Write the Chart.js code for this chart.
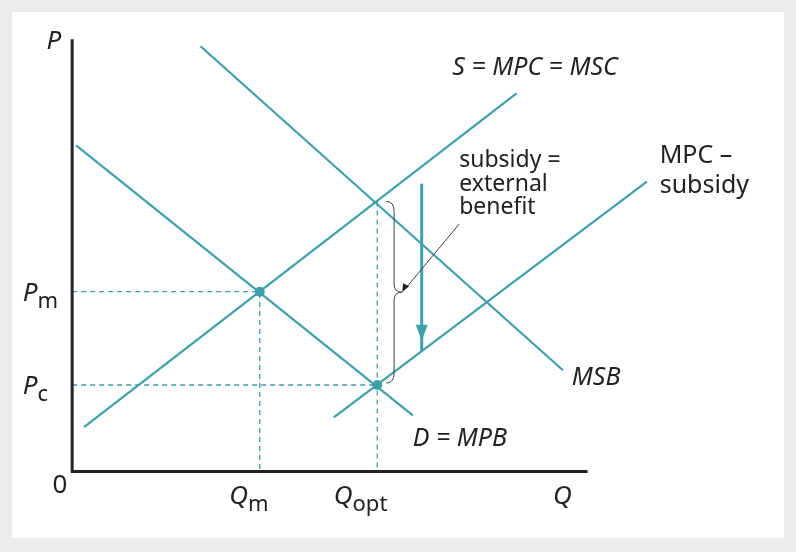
<!DOCTYPE html>
<html><head><meta charset="utf-8">
<script src="https://cdn.jsdelivr.net/npm/chart.js@4"></script>
<style>body{margin:0;background:#fff}canvas{display:block}</style>
</head><body>
<canvas id="c" width="796" height="552"></canvas>
<script>
// data in diagram units, origin at (0,0)
const supplyLine = [{x:12,y:45},{x:450,y:385}];        // S = MPC = MSC
const msbLine = [{x:130,y:433},{x:497,y:103}];         // MSB
const demandLine = [{x:4,y:332},{x:345,y:57}];         // D = MPB
const subsidyLine = [{x:265,y:55},{x:582,y:295}];      // MPC - subsidy
const equilibria = [{x:190,y:183},{x:309,y:88}];
const pmGuide = [{x:0,y:183},{x:190,y:183},{x:190,y:0}];
const pcGuide = [{x:0,y:88},{x:309,y:88}];
const qoptGuide = [{x:309,y:275},{x:309,y:0}];
const arrowX = 354, arrowTop = 293, arrowBottom = 135;
const axisLabels = [
  {t:'S = MPC = MSC', x:385, y:404, it:true, s:25},
  {t:'subsidy =', x:392, y:310, it:false, s:23},
  {t:'external', x:392, y:286, it:false, s:23},
  {t:'benefit', x:392, y:262, it:false, s:23},
  {t:'MPC –', x:595, y:314, it:false, s:25},
  {t:'subsidy', x:595, y:284, it:false, s:25},
  {t:'MSB', x:506, y:88, it:true, s:25},
  {t:'D = MPB', x:345, y:26, it:true, s:25}
];
const teal = '#3f9fab';

const ln = (d, dash) => ({type:'line', data:d, borderColor:teal, borderWidth: dash?1.3:2.2,
  borderDash: dash?[5,4]:[], pointRadius:0, fill:false, tension:0});

const frame = {
  id:'frame',
  beforeDraw(ch){
    const c = ch.ctx;
    c.save(); c.fillStyle = '#ececec'; c.fillRect(0,0,ch.width,ch.height);
    c.fillStyle = '#fff'; c.fillRect(12,12,ch.width-24,ch.height-26); c.restore();
  }
};

const decor = {
  id:'decor',
  afterDatasetsDraw(ch){
    const c = ch.ctx, sx = ch.scales.x, sy = ch.scales.y;
    const X = v=>sx.getPixelForValue(v), Y = v=>sy.getPixelForValue(v);
    c.save();
    // axes
    c.strokeStyle = '#222'; c.lineWidth = 3;
    c.beginPath(); c.moveTo(X(0),Y(440)); c.lineTo(X(0),Y(0)); c.lineTo(X(522),Y(0)); c.stroke();
    // arrow
    c.strokeStyle = teal; c.fillStyle = teal; c.lineWidth = 3;
    c.beginPath(); c.moveTo(X(arrowX),Y(arrowTop)); c.lineTo(X(arrowX),Y(arrowBottom)+12); c.stroke();
    c.beginPath(); c.moveTo(X(arrowX)-6,Y(arrowBottom)-14); c.lineTo(X(arrowX)+6,Y(arrowBottom)-14); c.lineTo(X(arrowX),Y(arrowBottom)+2); c.closePath(); c.fill();
    // brace
    c.strokeStyle = '#444'; c.lineWidth = 1;
    const bx = X(322), t = Y(275), b = Y(90), m = (t+b)/2;
    c.beginPath();
    c.moveTo(bx-4,t); c.quadraticCurveTo(bx+4,t,bx+4,t+10); c.lineTo(bx+4,m-8);
    c.quadraticCurveTo(bx+4,m,bx+12,m); c.quadraticCurveTo(bx+4,m,bx+4,m+8);
    c.lineTo(bx+4,b-10); c.quadraticCurveTo(bx+4,b,bx-4,b); c.stroke();
    // leader with small arrowhead
    c.beginPath(); c.moveTo(X(392),Y(252)); c.lineTo(bx+14,m-2); c.stroke();
    c.fillStyle = '#222';
    c.beginPath(); c.moveTo(bx+12,m); c.lineTo(bx+13,m-9); c.lineTo(bx+19,m-6); c.closePath(); c.fill();
    // labels
    c.fillStyle = '#222'; c.textBaseline = 'alphabetic';
    axisLabels.forEach(l=>{
      c.font = (l.it?'italic ':'') + l.s + 'px "Noto Sans"';
      c.fillText(l.t, X(l.x), Y(l.y));
    });
    c.font = 'italic 26px "Noto Sans"';
    c.fillText('P', X(-26), Y(430));
    c.fillText('Q', X(487), Y(-33));
    c.font = '26px "Noto Sans"'; c.fillText('0', X(-20), Y(-22));
    const sub = (main, s, x, y) => {
      c.font = 'italic 26px "Noto Sans"'; c.fillText(main, X(x), Y(y));
      const w = c.measureText(main).width;
      c.font = '22px "Noto Sans"'; c.fillText(s, X(x)+w, Y(y)+7);
    };
    sub('P','m',-50,174); sub('P','c',-50,79);
    sub('Q','m',159,-33); sub('Q','opt',265,-33);
    c.restore();
  }
};

new Chart(document.getElementById('c'), {
  type:'scatter',
  data:{datasets:[
    ln(pmGuide,true), ln(pcGuide,true), ln(qoptGuide,true),
    ln(supplyLine), ln(msbLine), ln(demandLine), ln(subsidyLine),
    {type:'scatter', data:equilibria, backgroundColor:teal, pointRadius:5, borderWidth:0}
  ]},
  options:{responsive:false, animation:false, layout:{padding:0},
    plugins:{legend:{display:false}, tooltip:{enabled:false}},
    scales:{x:{type:'linear', display:false, min:-68, max:728},
            y:{type:'linear', display:false, min:-77, max:475}}},
  plugins:[frame, decor]
});
</script>
</body></html>
